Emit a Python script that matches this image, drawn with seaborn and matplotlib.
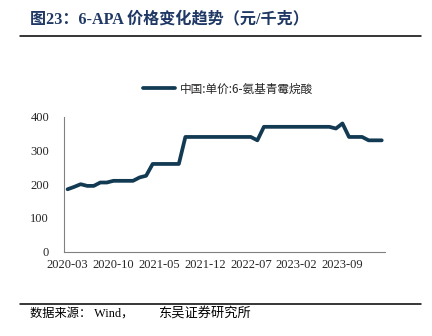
import matplotlib
matplotlib.use("Agg")
import matplotlib.pyplot as plt
import seaborn as sns
import pandas as pd
from matplotlib.lines import Line2D

months = [str(p) for p in pd.period_range("2020-03", "2024-03", freq="M")]
prices = [185, 192, 200, 195, 195, 205, 205, 210, 210, 210, 210, 220, 225,
          260, 260, 260, 260, 260,
          340, 340, 340, 340, 340, 340, 340, 340, 340, 340, 340,
          330,
          370, 370, 370, 370, 370, 370, 370, 370, 370, 370, 370,
          365, 380,
          340, 340, 340,
          330, 330, 330]
tick_labels = ["2020-03", "2020-10", "2021-05", "2021-12", "2022-07", "2023-02", "2023-09"]
y_ticks = [0, 100, 200, 300, 400]
series_name = "中国:单价:6-氨基青霉烷酸"
title = "图23：6-APA 价格变化趋势（元/千克）"
source_a = "数据来源： Wind，"
source_b = "东吴证券研究所"

sns.set_theme(style="white")
plt.rcParams["font.family"] = ["Liberation Serif", "Noto Sans CJK SC", "DejaVu Sans"]

df = pd.DataFrame({"idx": range(len(months)), "month": months, "price": prices})

line_color = "#123A52"
fig = plt.figure(figsize=(4.32, 3.36), dpi=100)
ax = fig.add_axes([64.3 / 432, 1 - 251.7 / 336, (385 - 64.3) / 432, (251.7 - 116.7) / 336])

sns.lineplot(data=df, x="idx", y="price", ax=ax, color=line_color, linewidth=2.7,
             legend=False)

ax.set_xlim(-0.5, len(months) - 0.5)
ax.set_ylim(0, 400)
ax.set_yticks(y_ticks)
ax.set_yticklabels([str(v) for v in y_ticks], fontsize=9)
major = [months.index(m) for m in tick_labels]
ax.set_xticks(major)
ax.set_xticklabels(tick_labels, fontsize=9)
ax.set_xticks([i - 0.5 for i in range(len(months) + 1)], minor=True)
ax.tick_params(axis="x", which="major", length=0, pad=5)
ax.tick_params(axis="x", which="minor", direction="in", length=3, width=0.6, color="#808080")
ax.tick_params(axis="y", which="major", direction="in", length=3, width=0.6, color="#808080", pad=11)
ax.set_xlabel("")
ax.set_ylabel("")
for s in ["top", "right"]:
    ax.spines[s].set_visible(False)
for s in ["left", "bottom"]:
    ax.spines[s].set_color("#808080")
    ax.spines[s].set_linewidth(0.8)
ax.grid(False)

handle = Line2D([0], [0], color=line_color, linewidth=2.7)
leg = fig.legend([handle], [series_name], loc="center",
                 bbox_to_anchor=(228 / 432, 1 - 89 / 336), frameon=False,
                 prop={"family": ["Noto Sans CJK SC"], "size": 8.4},
                 handlelength=2.7, handletextpad=0.4)

fig.text(30 / 432, 1 - 19 / 336, title, fontsize=11.6, fontweight="bold",
         color="#1F3864", ha="left", va="center",
         family=["Liberation Serif", "Noto Sans CJK SC"])
fig.add_artist(Line2D([20 / 432, 421 / 432], [1 - 35.7 / 336] * 2, color="black", linewidth=1.1))
fig.add_artist(Line2D([20 / 432, 421 / 432], [1 - 304.3 / 336] * 2, color="black", linewidth=1.1))
fig.text(30 / 432, 1 - 313.5 / 336, source_a, fontsize=8.8, color="black", ha="left", va="center",
         family=["Liberation Serif", "Noto Sans CJK SC"])
fig.text(158 / 432, 1 - 313.5 / 336, source_b, fontsize=9.5, color="black", ha="left", va="center",
         family=["Liberation Serif", "Noto Sans CJK SC"])

fig.savefig("out.png", dpi=100)
